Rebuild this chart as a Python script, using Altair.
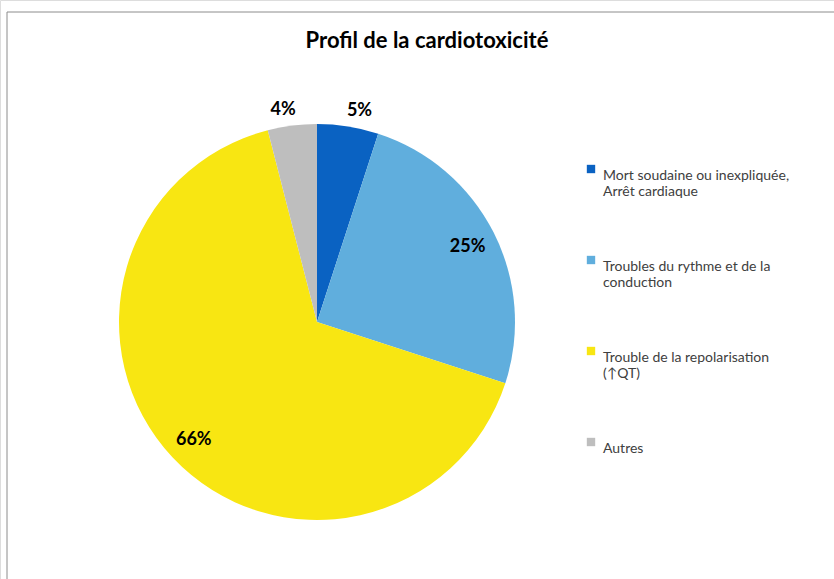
import altair as alt
import pandas as pd

categories = [
    "Mort soudaine ou inexpliquée,\nArrêt cardiaque",
    "Troubles du rythme et de la\nconduction",
    "Trouble de la repolarisation\n(↑QT)",
    "Autres",
]
values = [5, 25, 66, 4]
colors = ["#0A62C2", "#60AEDD", "#F8E612", "#BEBEBE"]
title_text = "Profil de la cardiotoxicité"

df = pd.DataFrame({"cat": categories, "value": values, "order": list(range(len(values)))})

FONT = "Lato"
total = sum(values)
fmt = "format(datum.value / %d, '.0%%')" % total

base = alt.Chart(df).transform_calculate(
    lab_first="datum.value < 10 && datum.order == 0 ? " + fmt + " : ''",
    lab_last="datum.value < 10 && datum.order > 0 ? " + fmt + " : ''",
    lab_in="datum.value >= 10 ? " + fmt + " : ''",
)

color = alt.Color(
    "cat:N",
    scale=alt.Scale(domain=categories, range=colors),
    sort=None,
    legend=alt.Legend(
        title=None,
        orient="none",
        legendX=584,
        legendY=162,
        symbolType="square",
        symbolSize=70,
        symbolStrokeWidth=0,
        labelFont=FONT,
        labelFontSize=14,
        labelColor="#404040",
        labelExpr="split(datum.label, '\\n')",
        labelLimit=300,
        rowPadding=54,
        labelBaseline="top",
        labelOffset=5,
    ),
)

theta = alt.Theta("value:Q", stack=True)
order = alt.Order("order:Q", sort="ascending")
cx = alt.value(317)
cy = alt.value(322)

pie = base.mark_arc(outerRadius=198, stroke=None).encode(
    theta=theta, color=color, order=order, x=cx, y=cy
)

lbl = dict(font=FONT, fontSize=18, fontWeight="bold", color="#000000")

txt_first = base.mark_text(radius=214, dx=9, **lbl).encode(
    theta=theta, order=order, text="lab_first:N", x=cx, y=cy
)
txt_last = base.mark_text(radius=214, dx=-7, **lbl).encode(
    theta=theta, order=order, text="lab_last:N", x=cx, y=cy
)
txt_in = base.mark_text(radius=169, dy=2, **lbl).encode(
    theta=theta, order=order, text="lab_in:N", x=cx, y=cy
)

frame = alt.Chart(pd.DataFrame({"t": [title_text]})).mark_rect(
    fill=None, stroke="#8C8C8C", strokeWidth=1
).encode(
    x=alt.value(7), x2=alt.value(840), y=alt.value(12), y2=alt.value(590)
)

title = alt.Chart(pd.DataFrame({"t": [title_text]})).mark_text(
    font=FONT, fontSize=22, fontWeight="bold", color="#000000", align="center", baseline="middle"
).encode(x=alt.value(427), y=alt.value(41), text="t:N")

chart = alt.layer(frame, pie, txt_first, txt_last, txt_in, title).properties(
    width=834, height=579, autosize=alt.AutoSizeParams(type="none"), padding=0
).configure_view(stroke=None).configure(background="white")

chart.save("out.html", embed_options={"renderer": "svg", "actions": False})
